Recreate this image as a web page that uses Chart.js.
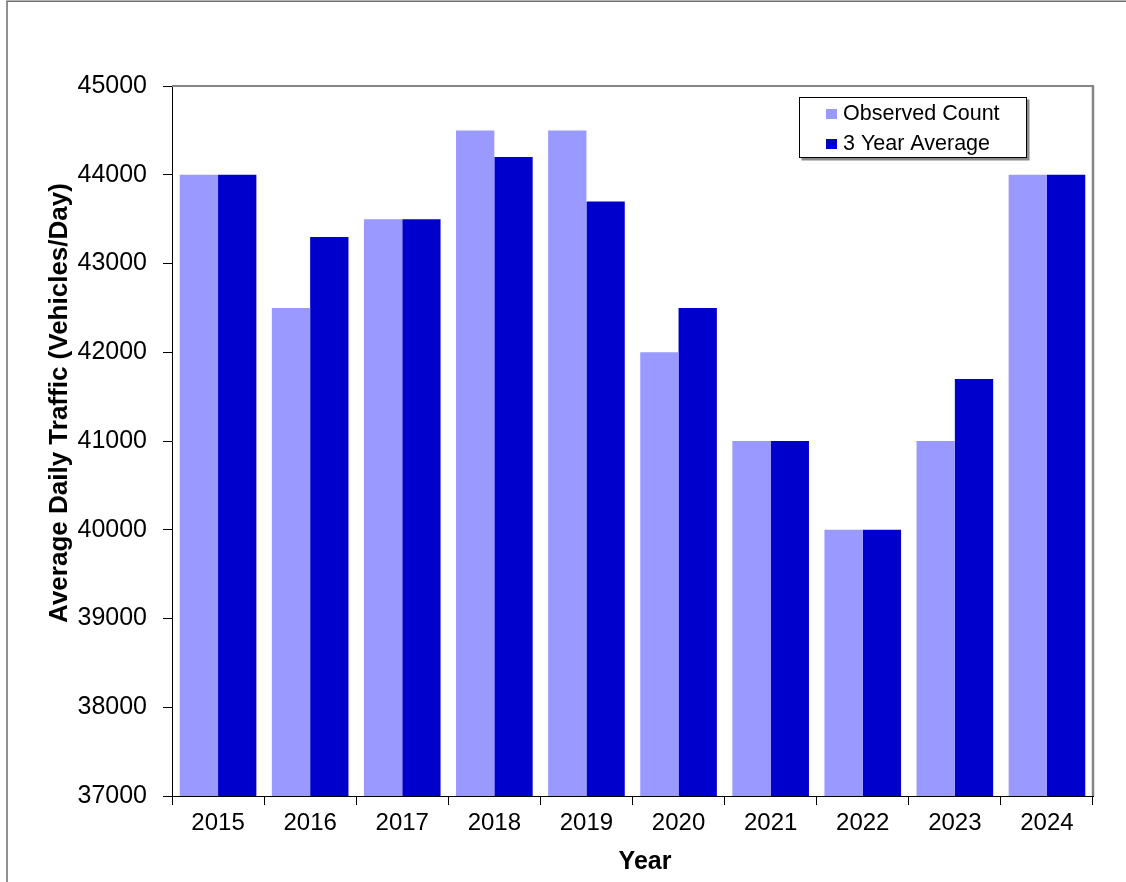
<!DOCTYPE html>
<html>
<head>
<meta charset="utf-8">
<script src="https://cdn.jsdelivr.net/npm/chart.js@4/dist/chart.umd.min.js"></script>
<style>
html,body{margin:0;padding:0;background:#fff;}
#wrap{width:1126px;height:882px;position:relative;}
</style>
</head>
<body>
<div id="wrap"><canvas id="c" width="1126" height="882"></canvas></div>
<script>
const years = ['2015','2016','2017','2018','2019','2020','2021','2022','2023','2024'];
const observedCount = [44000, 42500, 43500, 44500, 44500, 42000, 41000, 40000, 41000, 44000];
const threeYearAverage = [44000, 43300, 43500, 44200, 43700, 42500, 41000, 40000, 41700, 44000];
const yTicks = [37000, 38000, 39000, 40000, 41000, 42000, 43000, 44000, 45000];
const seriesLabels = ['Observed Count', '3 Year Average'];
const seriesColors = ['#9999FF', '#0000CC'];
const xAxisTitle = 'Year';
const yAxisTitle = 'Average Daily Traffic (Vehicles/Day)';

const FONT = "'Liberation Sans', Arial, Helvetica, sans-serif";

const framePlugin = {
  id: 'frame',
  beforeDraw(chart) {
    const ctx = chart.ctx;
    ctx.save();
    ctx.fillStyle = '#fff';
    ctx.fillRect(0, 0, chart.width, chart.height);
    ctx.strokeStyle = '#6e6e6e';
    ctx.lineWidth = 1.5;
    ctx.beginPath();
    ctx.moveTo(7, chart.height + 5);
    ctx.lineTo(7, 1.25);
    ctx.lineTo(chart.width + 5, 1.25);
    ctx.stroke();
    ctx.restore();
  },
  afterDraw(chart) {
    const ctx = chart.ctx;
    const a = chart.chartArea;
    ctx.save();
    ctx.strokeStyle = '#858585';
    ctx.lineWidth = 2;
    ctx.beginPath();
    ctx.moveTo(a.left, a.top);
    ctx.lineTo(a.right + 1, a.top);
    ctx.stroke();
    ctx.lineWidth = 2.5;
    ctx.beginPath();
    ctx.moveTo(a.right, a.top);
    ctx.lineTo(a.right, a.bottom);
    ctx.stroke();

    // axis titles
    ctx.fillStyle = '#000';
    ctx.font = 'bold 25px ' + FONT;
    ctx.textAlign = 'center';
    ctx.textBaseline = 'alphabetic';
    ctx.fillText(xAxisTitle, 645, 869);
    ctx.save();
    ctx.font = 'bold 26px ' + FONT;
    ctx.translate(67, 403);
    ctx.rotate(-Math.PI / 2);
    ctx.fillText(yAxisTitle, 0, 0);
    ctx.restore();

    // legend box
    const bx = 799.5, by = 97.5, bw = 227, bh = 60;
    ctx.fillStyle = '#8a8a8a';
    ctx.fillRect(bx + 2, by + 2, bw + 1, bh + 1);
    ctx.fillStyle = '#fff';
    ctx.fillRect(bx, by, bw, bh);
    ctx.strokeStyle = '#000';
    ctx.lineWidth = 1;
    ctx.strokeRect(bx, by, bw, bh);
    ctx.font = '21.5px ' + FONT;
    ctx.textBaseline = 'middle';
    ctx.textAlign = 'left';
    chart.data.datasets.forEach((ds, i) => {
      const y = 114 + i * 30;
      ctx.fillStyle = ds.backgroundColor;
      ctx.fillRect(826, y - 5, 11, 10);
      ctx.fillStyle = '#000';
      ctx.fillText(ds.label, 843, y);
    });
    ctx.restore();
  }
};

new Chart(document.getElementById('c'), {
  type: 'bar',
  data: {
    labels: years,
    datasets: [
      { label: seriesLabels[0], data: observedCount, backgroundColor: seriesColors[0], borderWidth: 0 },
      { label: seriesLabels[1], data: threeYearAverage, backgroundColor: seriesColors[1], borderWidth: 0 }
    ]
  },
  options: {
    responsive: false,
    animation: false,
    devicePixelRatio: 1,
    layout: { padding: { left: 10, top: 86, right: 33, bottom: 0 } },
    datasets: { bar: { categoryPercentage: 0.832, barPercentage: 1.0 } },
    plugins: { legend: { display: false }, tooltip: { enabled: false } },
    scales: {
      x: {
        afterFit(s) { s.height = 86; },
        grid: { display: true, drawOnChartArea: false, drawTicks: true, tickLength: 9, color: '#000', offset: true },
        border: { display: true, color: '#000', width: 1 },
        ticks: { color: '#000', font: { family: FONT, size: 24 }, padding: 4, maxRotation: 0 },
        title: { display: false }
      },
      y: {
        min: 37000, max: 45000,
        afterFit(s) { s.width = 162; },
        afterBuildTicks(s) { s.ticks = yTicks.map(v => ({ value: v })); },
        grid: { display: true, drawOnChartArea: false, drawTicks: true, tickLength: 9, color: '#000' },
        border: { display: true, color: '#000', width: 1 },
        ticks: { color: '#000', font: { family: FONT, size: 25 }, padding: 16, callback: v => String(v) },
        title: { display: false }
      }
    }
  },
  plugins: [framePlugin]
});
</script>
</body>
</html>
